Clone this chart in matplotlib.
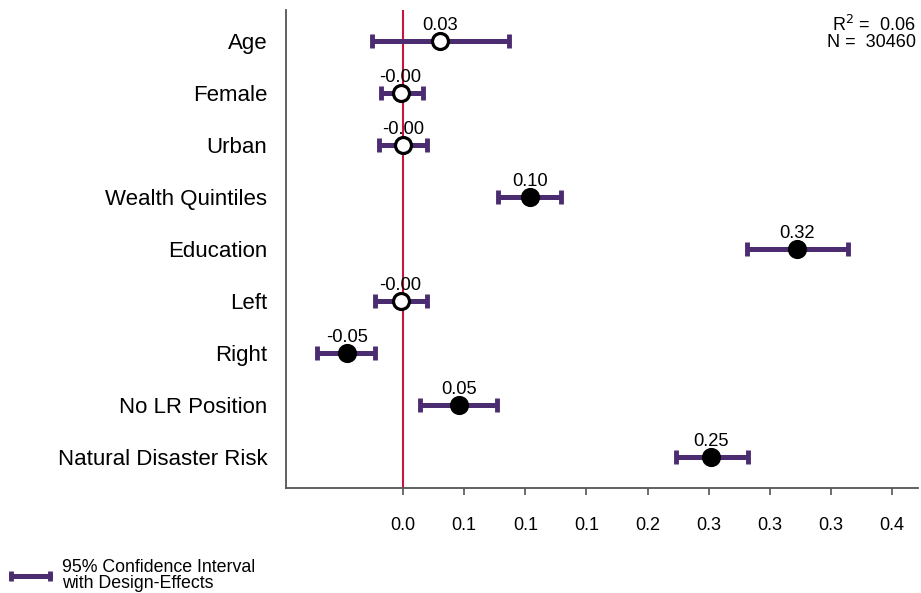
import matplotlib.pyplot as plt
from matplotlib.lines import Line2D

plt.rcParams['font.family'] = ['Liberation Sans', 'DejaVu Sans']

# 变量与估计值 (from top to bottom)
variables = ["Age", "Female", "Urban", "Wealth Quintiles", "Education",
             "Left", "Right", "No LR Position", "Natural Disaster Risk"]
estimates = [0.030, -0.002, -0.0002, 0.104, 0.322, -0.002, -0.046, 0.046, 0.252]
ci_low = [-0.025, -0.018, -0.020, 0.078, 0.281, -0.023, -0.070, 0.014, 0.223]
ci_high = [0.087, 0.016, 0.020, 0.129, 0.364, 0.020, -0.023, 0.077, 0.282]
value_labels = ["0.03", "-0.00", "-0.00", "0.10", "0.32", "-0.00", "-0.05", "0.05", "0.25"]
xtick_values = [0.0, 0.05, 0.10, 0.15, 0.20, 0.25, 0.30, 0.35, 0.40]
xtick_labels = ["0.0", "0.1", "0.1", "0.1", "0.2", "0.3", "0.3", "0.3", "0.4"]
r2 = "0.06"
n_obs = "30460"

purple = "#4b2c70"
red = "#c8153c"
spine_gray = "#555555"

fig = plt.figure(figsize=(9.21, 5.93), dpi=100)
ax = fig.add_axes([0.3105, 0.177, 0.686, 0.806])

ypos = list(range(1, len(variables) + 1))

ax.axvline(0, color=red, lw=1.5, zorder=1)

for y, est, lo, hi, lab in zip(ypos, estimates, ci_low, ci_high, value_labels):
    ax.errorbar(est, y, xerr=[[est - lo], [hi - est]], fmt='none',
                ecolor=purple, elinewidth=3.6, capsize=5, capthick=3.5, zorder=2)
    significant = lo > 0 or hi < 0
    ax.plot(est, y, 'o', markersize=11.5, markeredgewidth=2.3,
            markerfacecolor='black' if significant else 'white',
            markeredgecolor='black', zorder=3)
    ax.annotate(lab, (est, y), xytext=(0, 5), textcoords='offset points',
                ha='center', va='bottom', fontsize=13.2)

ax.set_ylim(9.6, 0.4)
ax.set_xlim(-0.0957, 0.421)
ax.set_yticks(ypos)
ax.set_yticklabels(variables, fontsize=16)
ax.tick_params(axis='y', length=0, pad=13.5)
ax.set_xticks(xtick_values)
ax.set_xticklabels(xtick_labels, fontsize=13)
ax.tick_params(axis='x', direction='out', length=5, width=1.2, color=spine_gray, pad=16)

for side in ['top', 'right']:
    ax.spines[side].set_visible(False)
for side in ['left', 'bottom']:
    ax.spines[side].set_color(spine_gray)
    ax.spines[side].set_linewidth(1.3)

ax.text(0.997, 0.99, "R$^2$ =  " + r2 + "\nN =  " + n_obs, transform=ax.transAxes,
        ha='right', va='top', fontsize=13, linespacing=0.9)

handle = Line2D([], [], color=purple, lw=3.6, marker='|', markersize=7,
                markeredgewidth=3.5)
fig.legend([handle], ["95% Confidence Interval\nwith Design-Effects"],
           loc='lower left', bbox_to_anchor=(0.0, -0.008), numpoints=2,
           frameon=False, fontsize=12.8, handlelength=2.8, handletextpad=0.4,
           borderaxespad=0.0, borderpad=0.3, labelspacing=0.2)
for t in fig.legends[0].get_texts():
    t.set_linespacing(0.95)

fig.savefig("out.png", dpi=100)
